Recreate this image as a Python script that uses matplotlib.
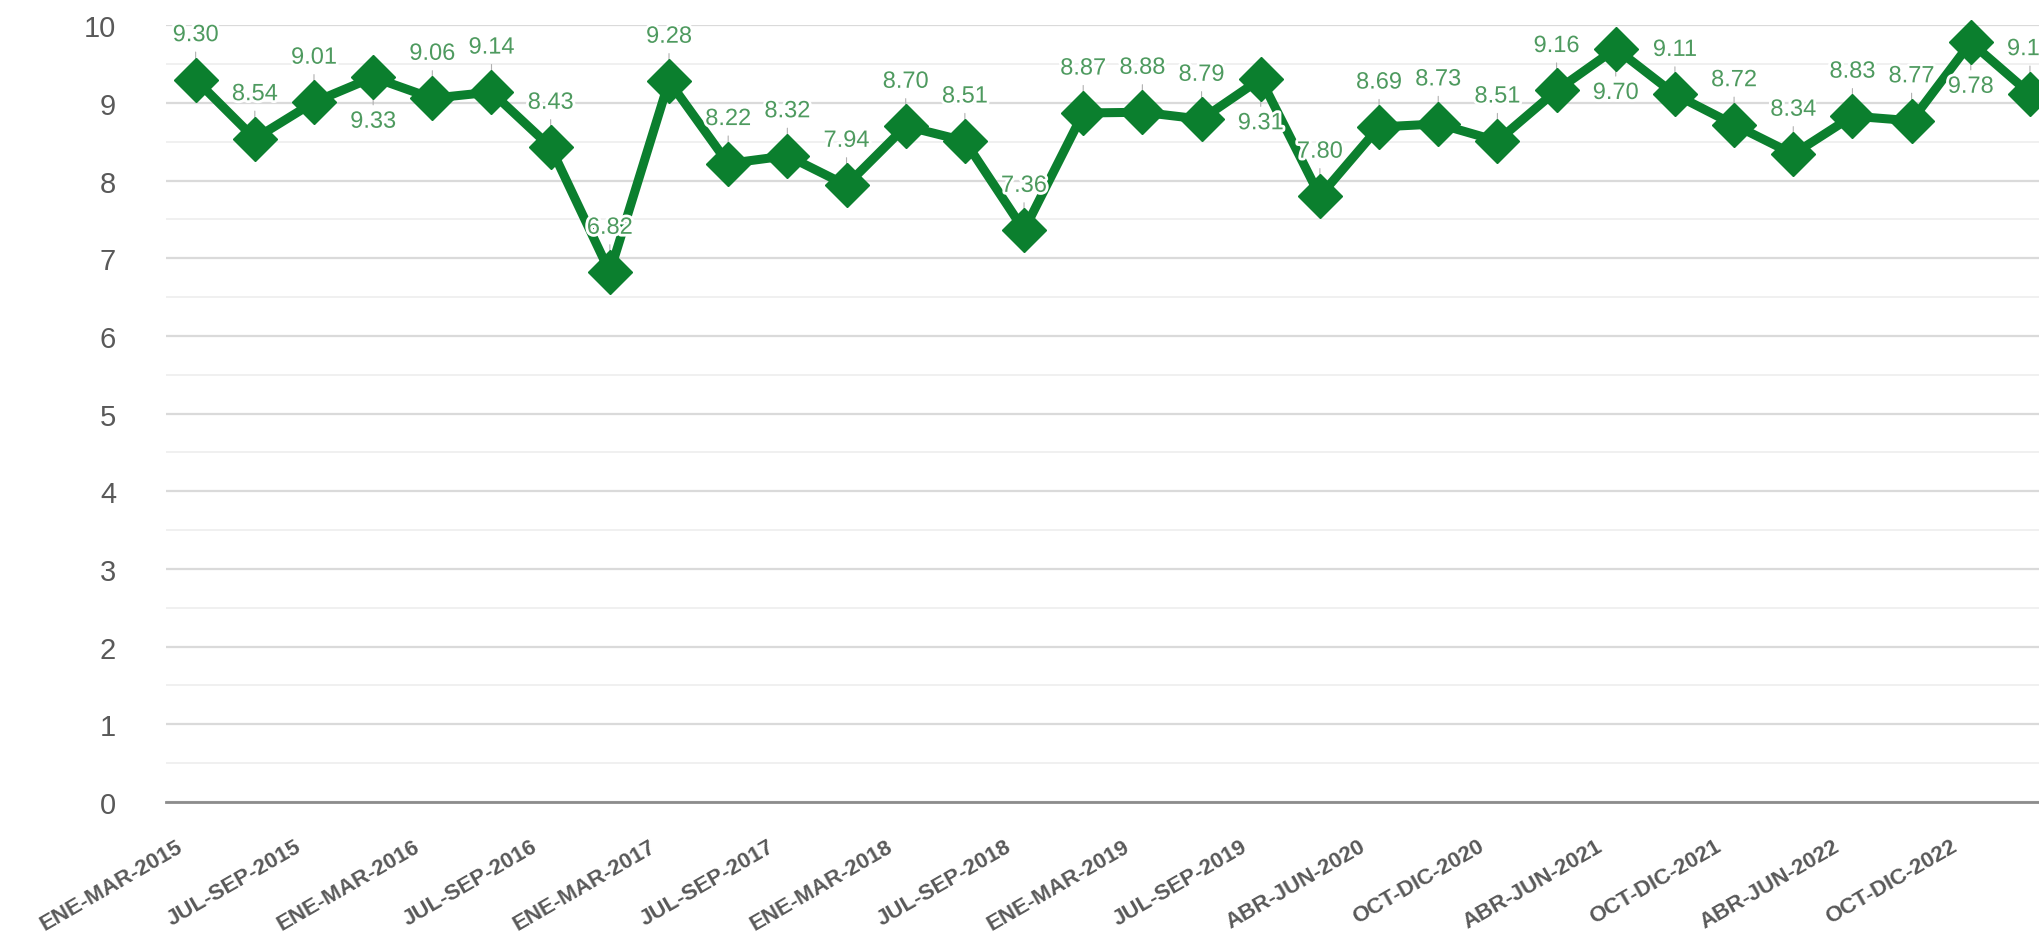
import matplotlib
matplotlib.use("Agg")
import matplotlib.pyplot as plt
import matplotlib.patheffects as pe
import matplotlib.transforms as mtransforms
import numpy as np

# trimestres (solo se rotula uno de cada dos)
periodos = ["ENE-MAR-2015", "ABR-JUN-2015", "JUL-SEP-2015", "OCT-DIC-2015",
            "ENE-MAR-2016", "ABR-JUN-2016", "JUL-SEP-2016", "OCT-DIC-2016",
            "ENE-MAR-2017", "ABR-JUN-2017", "JUL-SEP-2017", "OCT-DIC-2017",
            "ENE-MAR-2018", "ABR-JUN-2018", "JUL-SEP-2018", "OCT-DIC-2018",
            "ENE-MAR-2019", "ABR-JUN-2019", "JUL-SEP-2019", "OCT-DIC-2019",
            "ABR-JUN-2020", "JUL-SEP-2020", "OCT-DIC-2020", "ENE-MAR-2021",
            "ABR-JUN-2021", "JUL-SEP-2021", "OCT-DIC-2021", "ENE-MAR-2022",
            "ABR-JUN-2022", "JUL-SEP-2022", "OCT-DIC-2022", "ENE-MAR-2023"]
valores = [9.30, 8.54, 9.01, 9.33, 9.06, 9.14, 8.43, 6.82,
           9.28, 8.22, 8.32, 7.94, 8.70, 8.51, 7.36, 8.87,
           8.88, 8.79, 9.31, 7.80, 8.69, 8.73, 8.51, 9.16,
           9.70, 9.11, 8.72, 8.34, 8.83, 8.77, 9.78, 9.12]
# etiquetas que van debajo del marcador
abajo = ["OCT-DIC-2015", "JUL-SEP-2019", "ABR-JUN-2021", "OCT-DIC-2022"]

verde = '#0b7f2e'
verde_txt = '#4e9a5f'
gris = '#595959'

plt.rcParams['font.family'] = ['Liberation Sans', 'DejaVu Sans']

fig = plt.figure(figsize=(20.4, 9.37), dpi=100, facecolor='w')
ax = fig.add_axes([0.0814, 0.143, 0.9186, 0.829])

x = np.arange(len(valores))
ax.plot(x, valores, color=verde, linewidth=6.5, marker='D', markersize=22,
        markeredgecolor=verde, zorder=3, clip_on=False)

for i, v in enumerate(valores):
    dy = -32 if periodos[i] in abajo else 32
    # lineas guia
    ax.annotate('', xy=(i, v), xytext=(0, dy * 0.62), textcoords='offset points',
                arrowprops=dict(arrowstyle='-', color='#b0b0b0', lw=0.8,
                                shrinkA=0, shrinkB=0), zorder=1.5)
    ax.annotate('%.2f' % v, xy=(i, v), xytext=(0, dy), textcoords='offset points',
                ha='center', va='center', fontsize=17, color=verde_txt, zorder=4,
                annotation_clip=False,
                path_effects=[pe.withStroke(linewidth=4, foreground='white')])

ax.set_ylim(0, 10)
ax.set_xlim(-0.5, 31.17)
ax.set_yticks(np.arange(0, 11, 1))
ax.set_yticks(np.arange(0.5, 10, 1), minor=True)
ax.grid(axis='y', which='major', color='#dadada', linewidth=1.6, zorder=0)
ax.grid(axis='y', which='minor', color='#efefef', linewidth=1.3, zorder=0)
ax.set_axisbelow(True)

ax.set_xticks(x[::2])
ax.set_xticklabels(periodos[::2], rotation=30, ha='right', rotation_mode='anchor',
                   fontsize=16, fontweight='bold', color=gris)
ax.tick_params(axis='x', length=0, pad=24)
ax.tick_params(axis='y', which='both', length=0, pad=36, labelsize=21, labelcolor=gris)

# mover un poco a la izquierda las etiquetas del eje x
desp = mtransforms.ScaledTranslation(-0.2, 0, fig.dpi_scale_trans)
for lbl in ax.get_xticklabels():
    lbl.set_transform(lbl.get_transform() + desp)

for s in ['top', 'right', 'left']:
    ax.spines[s].set_visible(False)
ax.spines['bottom'].set_color('#8c8c8c')
ax.spines['bottom'].set_linewidth(2)

fig.savefig('out.png', dpi=100)
